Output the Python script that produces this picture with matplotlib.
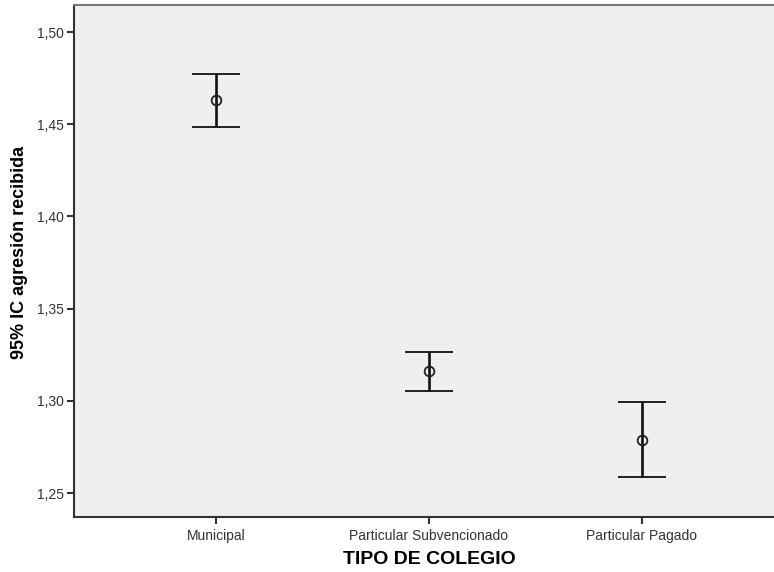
import matplotlib
matplotlib.use('Agg')
import matplotlib.pyplot as plt
from matplotlib.ticker import FuncFormatter

# datos (media e IC 95%)
categorias = ['Municipal', 'Particular Subvencionado', 'Particular Pagado']
media = [1.463, 1.316, 1.279]
ic_inferior = [1.4485, 1.3053, 1.2589]
ic_superior = [1.4772, 1.3265, 1.2993]
yticks = [1.25, 1.30, 1.35, 1.40, 1.45, 1.50]

plt.rcParams['font.family'] = ['Liberation Sans', 'DejaVu Sans']

fig = plt.figure(figsize=(7.74, 5.72), dpi=100)
ax = fig.add_axes([0.0956, 0.0962, 0.917, 0.8951])
ax.set_facecolor('#efefef')

x = list(range(1, len(categorias) + 1))
err_lo = [m - lo for m, lo in zip(media, ic_inferior)]
err_hi = [hi - m for m, hi in zip(media, ic_superior)]
ax.errorbar(x, media, yerr=[err_lo, err_hi], fmt='o', color='black',
            ecolor='#111111', elinewidth=1.9, capsize=17.5, capthick=1.9,
            markersize=7, markerfacecolor='none', markeredgewidth=1.3,
            markeredgecolor='#222222')

ax.set_xlim(1 - 142 / 213, 3 + 142 / 213)
ax.set_ylim(1.237, 1.5147)
ax.set_yticks(yticks)
ax.yaxis.set_major_formatter(FuncFormatter(lambda v, p: ('%.2f' % v).replace('.', ',')))
ax.set_xticks(x)
ax.set_xticklabels(categorias)

ax.tick_params(axis='both', direction='out', length=5, width=1.5, color='#333333',
               labelsize=10, labelcolor='#333333')
ax.tick_params(axis='x', pad=4)
ax.tick_params(axis='y', pad=2)

for s in ['left', 'bottom']:
    ax.spines[s].set_color('#333333')
    ax.spines[s].set_linewidth(1.5)
ax.spines['top'].set_color('#777777')
ax.spines['top'].set_linewidth(1.5)
ax.spines['right'].set_visible(False)

# posiciones de las etiquetas en pixeles relativos al eje
ax_w = 0.917 * 774
ax_h = 0.8951 * 572
ax.set_ylabel('95% IC agresión recibida', fontsize=13, fontweight='bold')
ax.set_xlabel('TIPO DE COLEGIO', fontsize=14, fontweight='bold')
ax.yaxis.set_label_coords(-54 / ax_w, (517 - 252) / ax_h)
ax.xaxis.set_label_coords((429 - 74) / ax_w, -(560 - 517) / ax_h)
ax.xaxis.label.set_va('center')
ax.yaxis.label.set_va('center')

fig.savefig('out.png', dpi=100)
